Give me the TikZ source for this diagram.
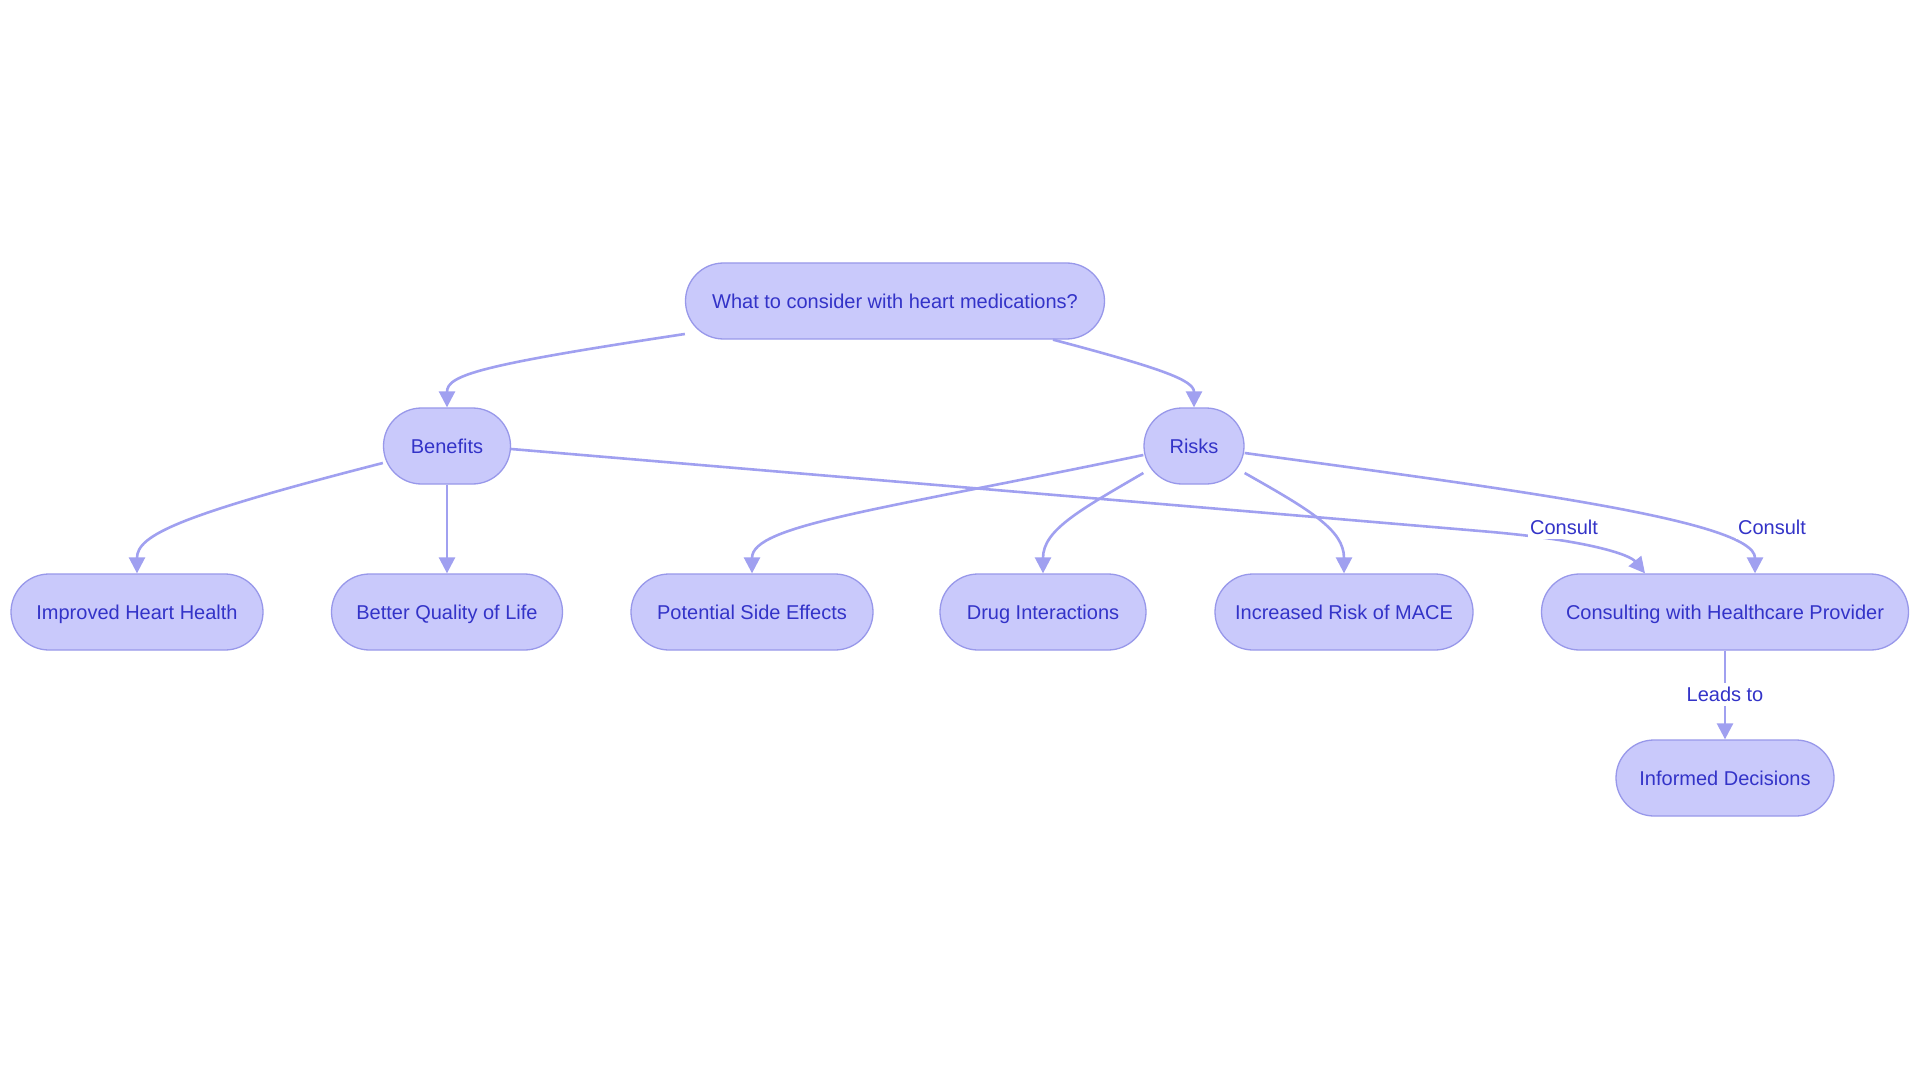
\documentclass[tikz,border=0pt]{standalone}
\usepackage{fontspec}
\setmainfont{Liberation Sans}
\usetikzlibrary{arrows.meta}

\definecolor{pillfill}{HTML}{C9C9FB}
\definecolor{pillline}{HTML}{9898EA}
\definecolor{pilltext}{HTML}{3333C8}
\definecolor{linkline}{HTML}{A0A0F0}

\tikzset{
    pill/.style={
        draw=pillline,
        line width=1.3pt,
        fill=pillfill,
        text=pilltext,
        rounded corners=38pt,
        minimum height=76pt,
        inner sep=0pt,
        text height=17pt,
        text depth=2pt,
        font=\fontsize{20pt}{24pt}\selectfont
    },
    link/.style={
        draw=linkline,
        line width=2.6pt,
        -{Triangle[length=16pt,width=16pt]}
    },
    linklabel/.style={
        fill=white,
        text=pilltext,
        inner sep=2pt,
        text height=17pt,
        text depth=2pt,
        font=\fontsize{20pt}{24pt}\selectfont
    }
}

\begin{document}
\begin{tikzpicture}[x=1pt,y=-1pt]
\path[use as bounding box, fill=white] (0,0) rectangle (1920,1083);

% nodes
\node[pill, minimum width=419pt] (root) at (895,301) {What to consider with heart medications?};
\node[pill, minimum width=127pt] (benefits) at (447,446) {Benefits};
\node[pill, minimum width=100pt] (risks) at (1194,446) {Risks};

\node[pill, minimum width=252pt] (improved) at (137,612) {Improved Heart Health};
\node[pill, minimum width=231pt] (better) at (447,612) {Better Quality of Life};
\node[pill, minimum width=242pt] (potential) at (752,612) {Potential Side Effects};
\node[pill, minimum width=206pt] (drug) at (1043,612) {Drug Interactions};
\node[pill, minimum width=258pt] (mace) at (1344,612) {Increased Risk of MACE};
\node[pill, minimum width=367pt] (consulting) at (1725,612) {Consulting with Healthcare Provider};
\node[pill, minimum width=218pt] (informed) at (1725,778) {Informed Decisions};

% links
\draw[link] ([yshift=-33pt]root.west) .. controls (480,365) and (447,375) .. (benefits.north);
\draw[link] ([xshift=158pt]root.south) .. controls (1160,368) and (1194,380) .. (risks.north);

\draw[link] ([yshift=-17pt]benefits.west) .. controls (180,515) and (137,535) .. (improved.north);
\draw[link] (benefits.south) -- (better.north);
\draw[link] ([yshift=-3pt]benefits.east) -- (1480,531)
    .. controls (1590,540) and (1630,555) .. ([xshift=-80pt]consulting.north);

\draw[link] ([yshift=-9pt]risks.west) .. controls (880,510) and (752,525) .. (potential.north);
\draw[link] ([yshift=-27pt]risks.west) .. controls (1080,510) and (1043,530) .. (drug.north);
\draw[link] ([yshift=-27pt]risks.east) .. controls (1310,510) and (1344,530) .. (mace.north);
\draw[link] ([yshift=-7pt]risks.east) .. controls (1500,488) and (1755,520) .. ([xshift=30pt]consulting.north);

\draw[link] (consulting.south) -- (informed.north);

% labels
\node[linklabel] (consultA) at (1564,527) {Consult};
\node[linklabel] (consultB) at (1772,527) {Consult};
\node[linklabel] (leads) at (1725,694) {Leads to};
\end{tikzpicture}
\end{document}
